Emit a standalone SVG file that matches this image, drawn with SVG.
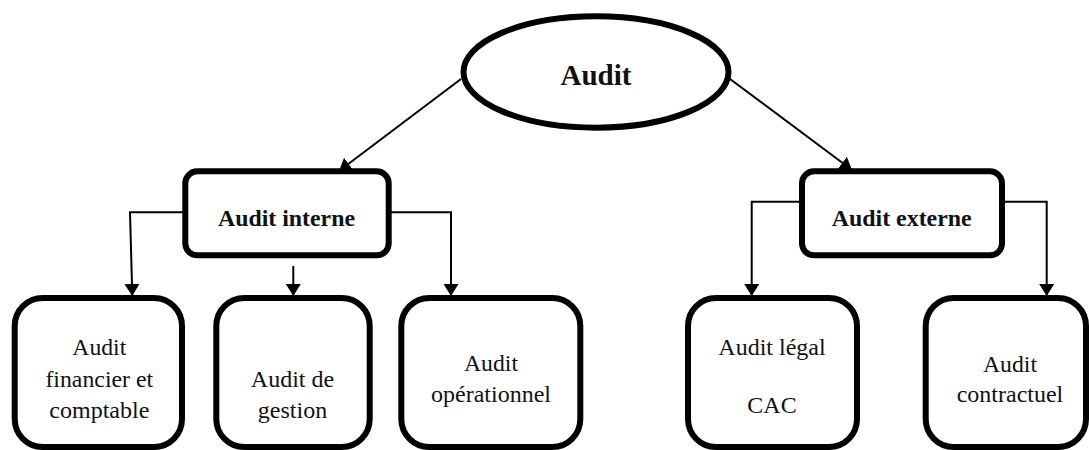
<svg xmlns="http://www.w3.org/2000/svg" width="1089" height="450" viewBox="0 0 1089 450">
  <defs>
    <marker id="arrow" markerUnits="userSpaceOnUse" markerWidth="12" markerHeight="15" refX="12" refY="7.5" orient="auto">
      <path d="M0,0 L12,7.5 L0,15 z" fill="#000"/>
    </marker>
    <style>
      .conn { fill: none; stroke: #000; stroke-width: 2; }
      .box { fill: #fff; stroke: #000; stroke-width: 6; }
      text { fill: #111; text-anchor: middle; font-family: "Liberation Serif", "DejaVu Serif", serif; }
      .bold { font-weight: bold; }
      .reg { font-size: 24px; }
    </style>
  </defs>
  <rect width="1089" height="450" fill="#fff"/>

  <g id="connectors">
    <line class="conn" x1="461" y1="79" x2="339" y2="171" marker-end="url(#arrow)"/>
    <line class="conn" x1="730" y1="79" x2="852" y2="170" marker-end="url(#arrow)"/>
    <polyline class="conn" points="183,212.3 130,212.3 132.3,296" marker-end="url(#arrow)"/>
    <line class="conn" x1="293.3" y1="266" x2="293.3" y2="296" marker-end="url(#arrow)"/>
    <polyline class="conn" points="391,212.3 451,212.3 451,296" marker-end="url(#arrow)"/>
    <polyline class="conn" points="799,201.7 751.7,201.7 751.7,296" marker-end="url(#arrow)"/>
    <polyline class="conn" points="1005,201.7 1046.7,201.7 1046.7,296" marker-end="url(#arrow)"/>
  </g>

  <g id="node-audit">
    <ellipse class="box" cx="596" cy="72" rx="132.5" ry="55.7"/>
    <text class="bold" x="596" y="85" font-size="29" textLength="71" lengthAdjust="spacingAndGlyphs">Audit</text>
  </g>

  <g id="node-audit-interne">
    <rect class="box" x="185.3" y="171.3" width="203.4" height="84" rx="12" ry="12"/>
    <text class="bold" x="286.5" y="225.7" font-size="24" textLength="137" lengthAdjust="spacingAndGlyphs">Audit interne</text>
  </g>

  <g id="node-audit-externe">
    <rect class="box" x="802" y="171.3" width="200" height="84" rx="12" ry="12"/>
    <text class="bold" x="901.7" y="225.7" font-size="24" textLength="140" lengthAdjust="spacingAndGlyphs">Audit externe</text>
  </g>

  <g id="node-financier">
    <rect class="box" x="14.7" y="298" width="167.3" height="149" rx="28" ry="28"/>
    <text class="reg" x="99.3" y="355" textLength="54" lengthAdjust="spacingAndGlyphs">Audit</text>
    <text class="reg" x="99.3" y="387.3" textLength="107.7" lengthAdjust="spacingAndGlyphs">financier et</text>
    <text class="reg" x="99.3" y="418.3" textLength="100" lengthAdjust="spacingAndGlyphs">comptable</text>
  </g>

  <g id="node-gestion">
    <rect class="box" x="216.3" y="298" width="153.4" height="149" rx="28" ry="28"/>
    <text class="reg" x="292.5" y="387.3" textLength="83.3" lengthAdjust="spacingAndGlyphs">Audit de</text>
    <text class="reg" x="292.5" y="418.3" textLength="69.3" lengthAdjust="spacingAndGlyphs">gestion</text>
  </g>

  <g id="node-operationnel">
    <rect class="box" x="401.3" y="298" width="179" height="149" rx="28" ry="28"/>
    <text class="reg" x="491" y="371" textLength="54" lengthAdjust="spacingAndGlyphs">Audit</text>
    <text class="reg" x="491" y="401.7" textLength="120" lengthAdjust="spacingAndGlyphs">opérationnel</text>
  </g>

  <g id="node-legal">
    <rect class="box" x="688" y="298" width="169" height="149" rx="28" ry="28"/>
    <text class="reg" x="772" y="355" textLength="107.3" lengthAdjust="spacingAndGlyphs">Audit légal</text>
    <text class="reg" x="772" y="413.3" textLength="49.3" lengthAdjust="spacingAndGlyphs">CAC</text>
  </g>

  <g id="node-contractuel">
    <rect class="box" x="925.7" y="298" width="160.3" height="149" rx="28" ry="28"/>
    <text class="reg" x="1010" y="371.7" textLength="54" lengthAdjust="spacingAndGlyphs">Audit</text>
    <text class="reg" x="1010" y="401.7" textLength="106.6" lengthAdjust="spacingAndGlyphs">contractuel</text>
  </g>
</svg>
